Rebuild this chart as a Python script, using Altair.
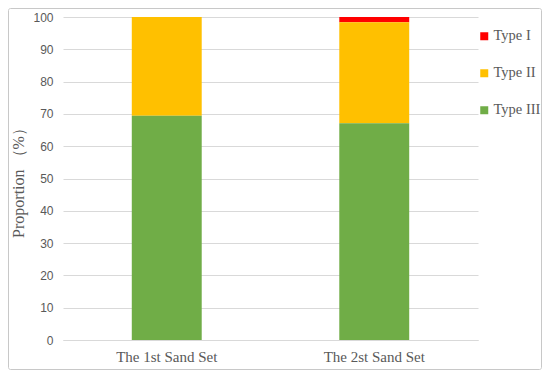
import altair as alt
import pandas as pd

categories = ["The 1st Sand Set", "The 2st Sand Set"]
type_names = ["Type I", "Type II", "Type III"]
type1 = [0.0, 1.6]
type2 = [30.6, 31.3]
type3 = [69.4, 67.1]
colors = ["#FF0000", "#FFC000", "#70AD47"]

rows = []
for i, c in enumerate(categories):
    for t, vals, order in zip(type_names, [type1, type2, type3], [3, 2, 1]):
        rows.append({"set": c, "type": t, "value": vals[i], "ord": order})
df = pd.DataFrame(rows)

serif = "Liberation Serif"

bars = alt.Chart(df).mark_bar().encode(
    x=alt.X("set:N", sort=categories, title=None,
            scale=alt.Scale(paddingInner=0.663, paddingOuter=0.3315),
            axis=alt.Axis(labelAngle=0, labelFont=serif, labelFontSize=15,
                          labelColor="#595959", ticks=False, domain=True,
                          domainColor="#d9d9d9", labelPadding=9)),
    y=alt.Y("value:Q", stack="zero", title="Proportion （%）",
            scale=alt.Scale(domain=[0, 100], nice=False),
            axis=alt.Axis(values=list(range(0, 101, 10)), labelFont="Liberation Sans",
                          labelFontSize=12, labelColor="#595959", ticks=False,
                          domain=False, gridColor="#d9d9d9", labelPadding=10,
                          titleFont=serif, titleFontSize=16, titleFontWeight="normal",
                          titleColor="#595959", titlePadding=6)),
    color=alt.Color("type:N", sort=type_names,
                    scale=alt.Scale(domain=type_names, range=colors),
                    legend=alt.Legend(title=None, orient="none", legendX=414, legendY=12,
                                      symbolType="square", symbolSize=64,
                                      symbolStrokeWidth=0, labelFont=serif,
                                      labelFontSize=14.5, labelColor="#595959",
                                      rowPadding=22, labelOffset=2)),
    order=alt.Order("ord:Q", sort="ascending"),
)

frame = alt.Chart(pd.DataFrame({"a": [0]})).mark_rect(
    fill=None, stroke="#c8c8c8", strokeWidth=1, cornerRadius=2
).encode(x=alt.value(-54.5), x2=alt.value(478.5), y=alt.value(-8.5), y2=alt.value(352.5))

chart = alt.layer(frame, bars).properties(
    width=415, height=323,
    autosize=alt.AutoSizeParams(type="none"),
    padding={"left": 55, "top": 9, "right": 64, "bottom": 30},
).configure_view(stroke=None)

chart.save("out.html", embed_options={"renderer": "svg", "actions": False})
